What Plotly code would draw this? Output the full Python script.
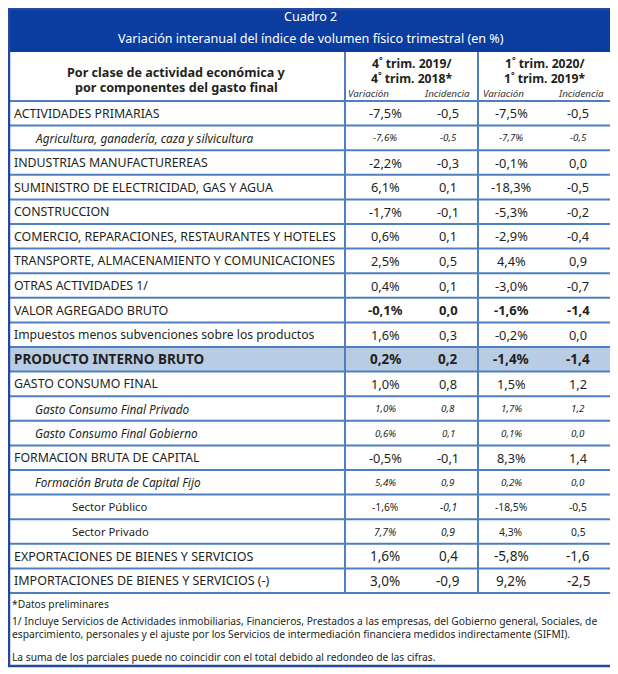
import plotly.graph_objects as go

# ---------------- data ----------------
title_1 = "Cuadro 2"
title_2 = "Variación interanual del índice de volumen físico trimestral (en %)"
header_label = ["Por clase de actividad económica y", "por componentes del gasto final"]
group_1 = ["4<sup>°</sup> trim. 2019/", "4<sup>°</sup> trim. 2018*"]
group_2 = ["1<sup>°</sup> trim. 2020/", "1<sup>°</sup> trim. 2019*"]
sub_headers = ["Variación", "Incidencia"]

labels = [
    "ACTIVIDADES PRIMARIAS",
    "Agricultura, ganadería, caza y silvicultura",
    "INDUSTRIAS MANUFACTUREREAS",
    "SUMINISTRO DE ELECTRICIDAD, GAS Y AGUA",
    "CONSTRUCCION",
    "COMERCIO, REPARACIONES, RESTAURANTES Y HOTELES",
    "TRANSPORTE, ALMACENAMIENTO Y COMUNICACIONES",
    "OTRAS ACTIVIDADES 1/",
    "VALOR AGREGADO BRUTO",
    "Impuestos menos subvenciones sobre los productos",
    "PRODUCTO INTERNO BRUTO",
    "GASTO CONSUMO FINAL",
    "Gasto Consumo Final Privado",
    "Gasto Consumo Final Gobierno",
    "FORMACION BRUTA DE CAPITAL",
    "Formación Bruta de Capital Fijo",
    "Sector Público",
    "Sector Privado",
    "EXPORTACIONES DE BIENES Y SERVICIOS",
    "IMPORTACIONES DE BIENES Y SERVICIOS (-)",
]
var_q4 = ["-7,5%", "-7,6%", "-2,2%", "6,1%", "-1,7%", "0,6%", "2,5%", "0,4%", "-0,1%", "1,6%",
          "0,2%", "1,0%", "1,0%", "0,6%", "-0,5%", "5,4%", "-1,6%", "7,7%", "1,6%", "3,0%"]
inc_q4 = ["-0,5", "-0,5", "-0,3", "0,1", "-0,1", "0,1", "0,5", "0,1", "0,0", "0,3",
          "0,2", "0,8", "0,8", "0,1", "-0,1", "0,9", "-0,1", "0,9", "0,4", "-0,9"]
var_q1 = ["-7,5%", "-7,7%", "-0,1%", "-18,3%", "-5,3%", "-2,9%", "4,4%", "-3,0%", "-1,6%", "-0,2%",
          "-1,4%", "1,5%", "1,7%", "0,1%", "8,3%", "0,2%", "-18,5%", "4,3%", "-5,8%", "9,2%"]
inc_q1 = ["-0,5", "-0,5", "0,0", "-0,5", "-0,2", "-0,4", "0,9", "-0,7", "-1,4", "0,0",
          "-1,4", "1,2", "1,2", "0,0", "1,4", "0,0", "-0,5", "0,5", "-1,6", "-2,5"]

footnotes = [
    "*Datos preliminares",
    "1/ Incluye Servicios de Actividades inmobiliarias, Financieros, Prestados a las empresas, del Gobierno general, Sociales, de",
    "esparcimiento, personales y el ajuste por los Servicios de intermediación financiera medidos indirectamente (SIFMI).",
    "La suma de los parciales puede no coincidir con el total debido al redondeo de las cifras.",
]

# ---------------- styles ----------------
kinds = ["main", "sub", "main", "main", "main", "main", "main", "main", "vab", "small",
         "pib", "main", "sub", "sub", "main", "sub", "sector", "sector", "big", "big"]
sector_italic = {16: [False, True, False, False], 17: [True, True, False, False]}

FONT = "Noto Sans"
TXT = "#231f20"
BAND = "#0b3c9f"
LINE = "#4f7fbf"
BORDER = "#24489e"
PIB_FILL = "#b8cce4"

# page body has an 8px margin: map axis units to window pixels
OFF = 8
W, H = 618, 674
X0, X1 = 9, 612.5
XC1, XC2 = 345, 478
Y_TOP, Y_BAND, Y_HEAD = 9, 52, 101
ROW_H = 24.6
n = len(labels)
Y_TABLE_END = Y_HEAD + ROW_H * n
Y_BOTTOM = 666

col_x = [385, 448, 511, 578]

fig = go.Figure()
shapes = []
ann = []


def add_text(x, y, text, size=12, xanchor="center", color=TXT, family=FONT):
    ann.append(dict(x=x, y=y, xref="x", yref="y", text=text, showarrow=False,
                    xanchor=xanchor, yanchor="middle",
                    font=dict(family=family, size=size, color=color)))


# title band
shapes.append(dict(type="rect", x0=X0, x1=X1, y0=Y_TOP, y1=Y_BAND, fillcolor=BAND,
                   line=dict(width=0), layer="below"))
add_text((X0 + X1) / 2, 16, title_1, 12.5, color="white")
add_text((X0 + X1) / 2, 38, title_2, 12.6, color="white")

# PIB shading
for i, k in enumerate(kinds):
    if k == "pib":
        shapes.append(dict(type="rect", x0=X0, x1=X1, y0=Y_HEAD + ROW_H * i,
                           y1=Y_HEAD + ROW_H * (i + 1), fillcolor=PIB_FILL,
                           line=dict(width=0), layer="below"))

# horizontal lines
for i in range(n + 1):
    y = Y_HEAD + ROW_H * i
    shapes.append(dict(type="line", x0=X0, x1=X1, y0=y, y1=y, line=dict(color=LINE, width=2)))
# vertical dividers
for xc in (XC1, XC2):
    shapes.append(dict(type="line", x0=xc, x1=xc, y0=Y_BAND, y1=Y_TABLE_END,
                       line=dict(color=LINE, width=2)))
# outer border
shapes.append(dict(type="rect", x0=X0, x1=X1, y0=Y_TOP, y1=Y_BOTTOM,
                   line=dict(color=BORDER, width=2.5), fillcolor="rgba(0,0,0,0)"))

# headers
add_text(176, 72, "<b>" + header_label[0] + "</b>", 12.6)
add_text(176, 87, "<b>" + header_label[1] + "</b>", 12.6)
for cx, g in ((412, group_1), (545, group_2)):
    add_text(cx, 63, "<b>" + g[0] + "</b>", 12.2)
    add_text(cx, 78, "<b>" + g[1] + "</b>", 12.2)
for cx, t in zip([368, 447, 503, 581], sub_headers * 2):
    add_text(cx, 93.5, "<i>" + t + "</i>", 9.8, color="#333333")

# rows
for i in range(n):
    yc = Y_HEAD + ROW_H * i + ROW_H / 2
    k = kinds[i]
    lab = labels[i]
    vals = [var_q4[i], inc_q4[i], var_q1[i], inc_q1[i]]
    if k == "sub":
        add_text(33, yc, "<i>" + lab + "</i>", 11.8, xanchor="left")
        for cx, v in zip(col_x, vals):
            add_text(cx, yc, "<i>" + v + "</i>", 9.8)
    elif k == "sector":
        add_text(70, yc, lab, 11.3, xanchor="left")
        for cx, v, it in zip(col_x, vals, sector_italic[i]):
            add_text(cx, yc, ("<i>" + v + "</i>") if it else v, 10.3)
    elif k == "small":
        add_text(12, yc, lab, 12.2, xanchor="left")
        for cx, v in zip(col_x, vals):
            add_text(cx, yc, v, 12.8)
    elif k == "vab":
        add_text(12, yc, lab, 12.5, xanchor="left")
        for cx, v in zip(col_x, vals):
            add_text(cx, yc, "<b>" + v + "</b>", 13)
    elif k == "pib":
        add_text(12, yc, "<b>" + lab + "</b>", 13.5, xanchor="left")
        for cx, v in zip(col_x, vals):
            add_text(cx, yc, "<b>" + v + "</b>", 13.5)
    elif k == "big":
        add_text(12, yc, lab, 12.5, xanchor="left")
        for cx, v in zip(col_x, vals):
            add_text(cx, yc, v, 13.5)
    else:
        add_text(12, yc, lab, 12.35, xanchor="left")
        for cx, v in zip(col_x, vals):
            add_text(cx, yc, v, 12.8)

# footnotes
for y, t in zip([604, 621, 634, 657], footnotes):
    add_text(9.5, y, t, 10.25, xanchor="left")

fig.update_layout(
    width=W - OFF, height=H - OFF, margin=dict(l=0, r=0, t=0, b=0),
    paper_bgcolor="white", plot_bgcolor="white",
    xaxis=dict(range=[OFF, W], visible=False, fixedrange=True),
    yaxis=dict(range=[H, OFF], visible=False, fixedrange=True),
    shapes=shapes, annotations=ann, showlegend=False,
)
fig.write_html("out.html")
